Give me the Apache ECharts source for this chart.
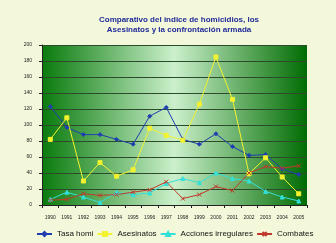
<!DOCTYPE html>
<html>
<head>
<meta charset="utf-8">
<script src="https://cdn.jsdelivr.net/npm/echarts@6/dist/echarts.min.js"></script>
<style>
  html, body { margin: 0; padding: 0; background: #f4f8da; }
  #chart { width: 336px; height: 243px; }
</style>
</head>
<body>
<div id="chart"></div>
<script>
var years = ['1990', '1991', '1992', '1993', '1994', '1995', '1996', '1997',
             '1998', '1999', '2000', '2001', '2002', '2003', '2004', '2005'];
var tasaHomi = [123, 97, 88, 88, 82, 76, 111, 122, 82, 76, 89, 73, 62, 63, 45, 38];
var asesinatos = [82, 109, 30, 53, 36, 44, 96, 87, 81, 126, 185, 132, 39, 59, 35, 14];
var acciones = [7, 16, 10, 3, 16, 13, 15, 27, 33, 28, 40, 33, 30, 17, 10, 5];
var combates = [6, 7, 14, 12, 13, 16, 19, 29, 8, 13, 23, 18, 40, 48, 46, 49];

var chart = echarts.init(document.getElementById('chart'));

function line(name, data, color, symbol, size) {
  return {
    name: name,
    type: 'line',
    data: data,
    symbol: symbol,
    symbolSize: size,
    lineStyle: { color: color, width: 1 },
    itemStyle: { color: color, borderColor: color, borderWidth: 1 },
    emphasis: { disabled: true }
  };
}

var option = {
  backgroundColor: '#f4f8da',
  animation: false,
  title: {
    text: 'Comparativo del indice de homicidios, los\nAsesinatos y la confrontación armada',
    left: 174,
    textAlign: 'center',
    top: 10,
    textStyle: {
      fontFamily: 'Liberation Sans',
      fontSize: 8,
      fontWeight: 'bold',
      color: '#1f2a9a',
      lineHeight: 10
    }
  },
  legend: {
    bottom: 0,
    left: 31,
    width: 320,
    itemWidth: 15,
    itemHeight: 5,
    itemGap: 3,
    textStyle: { fontFamily: 'Liberation Sans', fontSize: 8, color: '#111' },
    data: ['Tasa homi', 'Asesinatos', 'Acciones irregulares', 'Combates']
  },
  grid: {
    left: 42,
    right: 29,
    top: 45,
    bottom: 38,
    show: true,
    borderWidth: 0,
    backgroundColor: new echarts.graphic.LinearGradient(0, 0, 1, 0, [
      { offset: 0, color: '#097a0c' },
      { offset: 0.5, color: '#cbf0cb' },
      { offset: 1, color: '#016c03' }
    ])
  },
  xAxis: {
    type: 'category',
    data: years,
    boundaryGap: true,
    axisLine: { lineStyle: { color: '#222' } },
    axisTick: { show: true, length: 3, lineStyle: { color: '#222' } },
    axisLabel: { fontFamily: 'Liberation Sans', fontSize: 5, color: '#222', margin: 10, interval: 0 }
  },
  yAxis: {
    type: 'value',
    min: 0,
    max: 200,
    interval: 20,
    axisLine: { show: true, lineStyle: { color: '#222' } },
    axisTick: { show: true, length: 3, lineStyle: { color: '#222' } },
    axisLabel: { fontFamily: 'Liberation Sans', fontSize: 5, color: '#222', margin: 10 },
    splitLine: { lineStyle: { color: '#2c4a2c', width: 1 } }
  },
  series: [
    line('Tasa homi', tasaHomi, '#1f3fb0', 'diamond', 4),
    line('Asesinatos', asesinatos, '#f2f230', 'rect', 4),
    line('Acciones irregulares', acciones, '#33e0d8', 'triangle', 4),
    line('Combates', combates, '#c0392b', 'path://M0,0L10,10M10,0L0,10', 4)
  ]
};

chart.setOption(option);
</script>
</body>
</html>
